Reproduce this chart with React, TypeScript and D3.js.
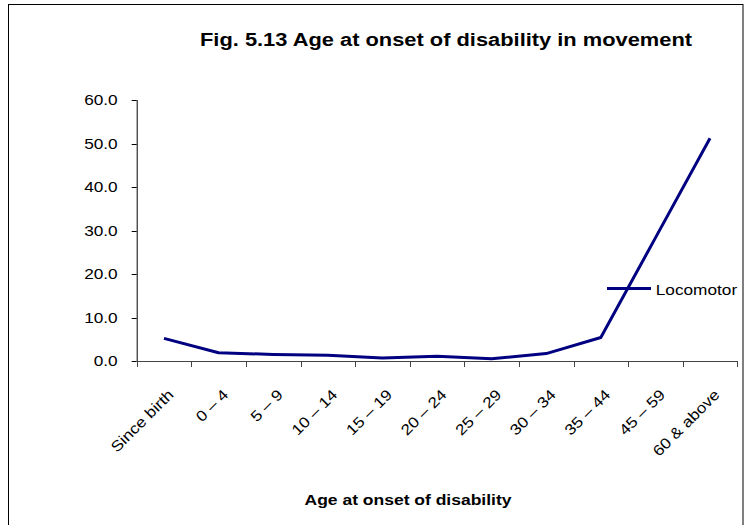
import React, { useEffect, useRef } from 'react';
import * as d3 from 'd3';

// Age groups at onset of disability (x categories)
const ageGroups = [
  'Since birth',
  '0 – 4',
  '5 – 9',
  '10 – 14',
  '15 – 19',
  '20 – 24',
  '25 – 29',
  '30 – 34',
  '35 – 44',
  '45 – 59',
  '60 & above',
];

// Locomotor series, % of persons
const locomotor = [5.2, 1.9, 1.5, 1.3, 0.7, 1.1, 0.5, 1.7, 5.4, 28.3, 51.2];

const yTicks = [0, 10, 20, 30, 40, 50, 60];

const seriesName = 'Locomotor';
const titleText = 'Fig. 5.13 Age at onset of disability in movement';
const xTitleText = 'Age at onset of disability';

const W = 746;
const H = 525;

const App: React.FC = () => {
  const ref = useRef<SVGSVGElement>(null);

  useEffect(() => {
    if (!ref.current) return;
    const svg = d3.select(ref.current);
    svg.selectAll('*').remove();

    const font = 'Arial, "Liberation Sans", Helvetica, sans-serif';
    const stretch = 1.15; // labels in the source are rendered a bit wide
    const fs = 15;

    const left = 136.7;
    const right = 737.3;
    const top = 100;
    const bottom = 361;

    // outer frame
    svg.append('rect')
      .attr('x', 8.5)
      .attr('y', 4.5)
      .attr('width', 734.5)
      .attr('height', 530)
      .attr('fill', 'white')
      .attr('stroke', '#000')
      .attr('stroke-width', 1);

    const x = d3.scaleBand<string>()
      .domain(ageGroups)
      .range([left, right])
      .padding(0);

    const y = d3.scaleLinear()
      .domain([0, 60])
      .range([bottom, top]);

    // title
    svg.append('text')
      .attr('x', 446)
      .attr('y', 46)
      .attr('text-anchor', 'middle')
      .attr('font-family', font)
      .attr('font-weight', 'bold')
      .attr('font-size', 17.5)
      .attr('textLength', 492)
      .attr('lengthAdjust', 'spacingAndGlyphs')
      .text(titleText);

    // y axis
    const yAxis = svg.append('g');
    yAxis.append('line')
      .attr('x1', left + 0.5).attr('x2', left + 0.5)
      .attr('y1', top).attr('y2', bottom)
      .attr('stroke', '#000');
    yTicks.forEach(t => {
      yAxis.append('line')
        .attr('x1', left - 5).attr('x2', left)
        .attr('y1', Math.round(y(t)) + 0.5).attr('y2', Math.round(y(t)) + 0.5)
        .attr('stroke', '#000');
      yAxis.append('text')
        .attr('transform', `translate(117.7,${y(t)}) scale(${stretch},1)`)
        .attr('dy', '0.36em')
        .attr('text-anchor', 'end')
        .attr('font-family', font)
        .attr('font-size', fs)
        .attr('fill', '#000')
        .text(d3.format('.1f')(t));
    });

    // x axis
    const xAxis = svg.append('g');
    xAxis.append('line')
      .attr('x1', left).attr('x2', right)
      .attr('y1', bottom + 0.5).attr('y2', bottom + 0.5)
      .attr('stroke', '#444');
    const edges = ageGroups.map(g => x(g)!).concat([right]);
    edges.forEach(ex => {
      xAxis.append('line')
        .attr('x1', Math.round(ex) + 0.5).attr('x2', Math.round(ex) + 0.5)
        .attr('y1', bottom).attr('y2', bottom + 6)
        .attr('stroke', '#444');
    });
    ageGroups.forEach(g => {
      const cx = x(g)! + x.bandwidth() / 2;
      xAxis.append('text')
        .attr('transform', `translate(${cx + 10.6},395.6) rotate(-45) scale(${stretch},1)`)
        .attr('text-anchor', 'end')
        .attr('font-family', font)
        .attr('font-size', fs)
        .attr('fill', '#000')
        .text(g);
    });

    // x axis title
    svg.append('text')
      .attr('x', 408)
      .attr('y', 505)
      .attr('text-anchor', 'middle')
      .attr('font-family', font)
      .attr('font-weight', 'bold')
      .attr('font-size', 14)
      .attr('textLength', 207)
      .attr('lengthAdjust', 'spacingAndGlyphs')
      .text(xTitleText);

    // series line
    const line = d3.line<number>()
      .x((_, i) => x(ageGroups[i])! + x.bandwidth() / 2)
      .y(d => y(d));

    svg.append('path')
      .datum(locomotor)
      .attr('d', line)
      .attr('fill', 'none')
      .attr('stroke', '#000080')
      .attr('stroke-width', 3)
      .attr('stroke-linejoin', 'round');

    // legend
    svg.append('line')
      .attr('x1', 607).attr('x2', 651)
      .attr('y1', 288.5).attr('y2', 288.5)
      .attr('stroke', '#000080')
      .attr('stroke-width', 3);
    svg.append('text')
      .attr('transform', `translate(655.7,290) scale(${stretch},1)`)
      .attr('dy', '0.36em')
      .attr('font-family', font)
      .attr('font-size', fs)
      .attr('fill', '#000')
      .text(seriesName);
  }, []);

  return (
    <svg
      ref={ref}
      width={W}
      height={H}
      style={{ position: 'absolute', left: 0, top: 0, background: 'white' }}
    />
  );
};

export default App;
